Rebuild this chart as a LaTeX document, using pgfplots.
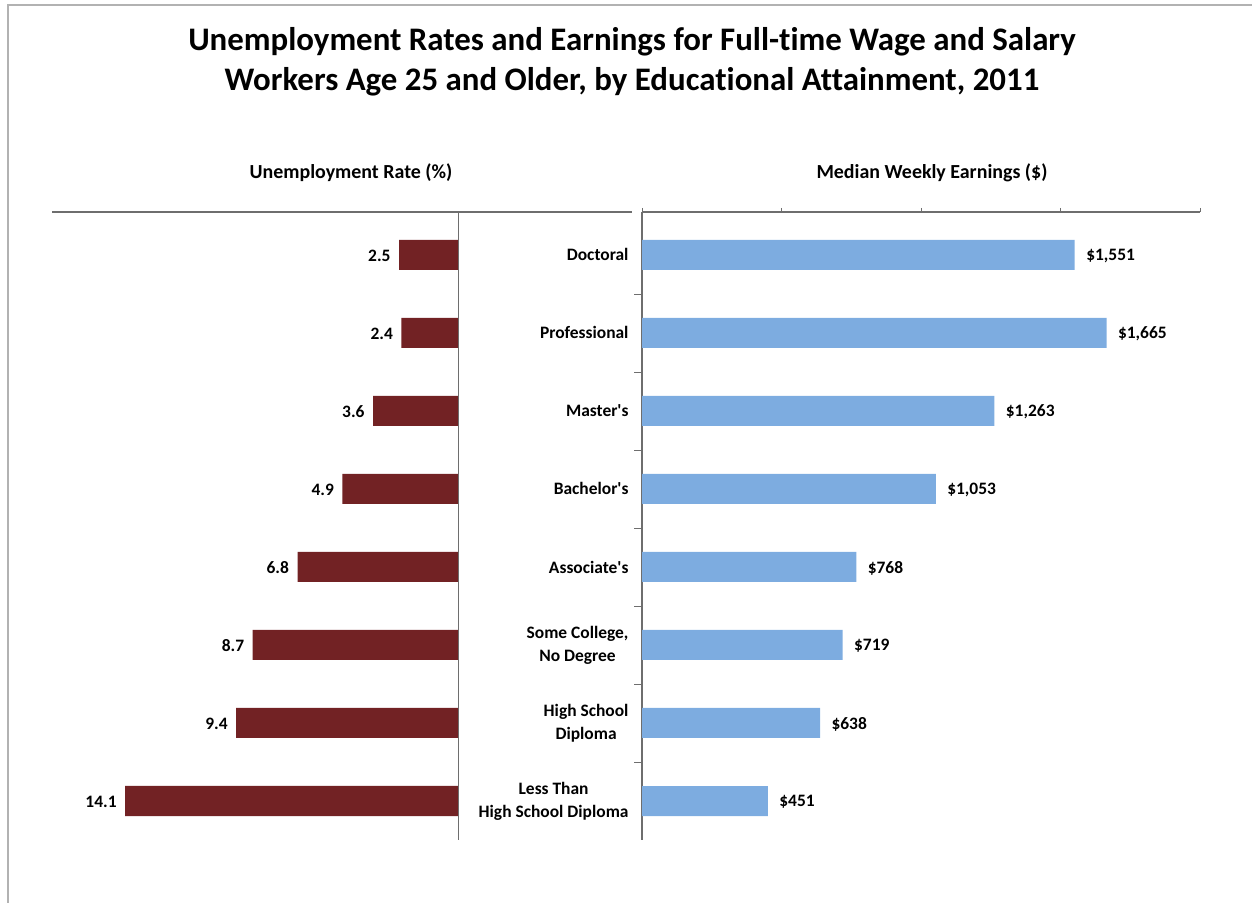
\documentclass[border=0pt]{standalone}
\usepackage{fontspec}
\setmainfont{Carlito}[Ligatures={TeXOff,NoCommon}]
\usepackage{pgfplots}
\pgfplotsset{compat=1.18}
\definecolor{maroon}{RGB}{114,34,36}
\definecolor{lblue}{RGB}{125,172,224}
\definecolor{axgray}{RGB}{110,110,110}
\begin{document}
\begin{tikzpicture}
\path[use as bounding box] (0bp,0bp) rectangle (1252bp,903bp);
\draw[gray!60,line width=1.5bp] (8bp,0bp) -- (8bp,898bp) -- (1252bp,898bp);
\node[font=\bfseries\fontsize{33}{40}\selectfont,align=center] at (632bp,841bp) {Unemployment Rates and Earnings for Full-time Wage and Salary\\Workers Age 25 and Older, by Educational Attainment, 2011};
\node[font=\bfseries\fontsize{20}{24}\selectfont] at (351bp,730bp) {Unemployment Rate (\%)};
\node[font=\bfseries\fontsize{20}{24}\selectfont] at (932bp,730bp) {Median Weekly Earnings (\$)};
% left axis
\begin{axis}[
  at={(52bp,63bp)}, anchor=south west, scale only axis,
  width=580bp, height=628bp,
  xmin=-17.2, xmax=7.37, ymin=0.45, ymax=8.5, y dir=reverse,
  axis x line*=top, axis y line=none,
  xtick=\empty, ytick=\empty,
  axis line style={axgray, line width=1.5bp, -},
  xbar, bar width=30bp, bar shift=0pt,
  point meta=explicit symbolic,
  nodes near coords,
  every node near coord/.append style={anchor=east, font=\bfseries\fontsize{17.5}{20}\selectfont, xshift=-5bp, yshift=-1bp},
  clip=false,
]
\addplot[draw=none, fill=maroon] coordinates {
(-2.5,1) [2.5]
(-2.4,2) [2.4]
(-3.6,3) [3.6]
(-4.9,4) [4.9]
(-6.8,5) [6.8]
(-8.7,6) [8.7]
(-9.4,7) [9.4]
(-14.1,8) [14.1]
};
\draw[axgray, line width=1bp] (axis cs:0,0.45) -- (axis cs:0,8.5);
\end{axis}
% right axis
\begin{axis}[
  at={(642bp,63bp)}, anchor=south west, scale only axis,
  width=558bp, height=628bp,
  xmin=0, xmax=2000, ymin=0.45, ymax=8.5, y dir=reverse,
  axis x line*=top, axis y line*=left,
  axis line style={axgray, line width=1.2bp, -},
  xtick={0,500,1000,1500,2000}, xticklabels={},
  ytick={1,...,8},
  yticklabels={Doctoral, Professional, Master's, Bachelor's, Associate's, {Some College,\\No Degree}, {High School\\Diploma}, {Less Than\\High School Diploma}},
  yticklabel style={align=center, font=\bfseries\fontsize{17.5}{23}\selectfont, xshift=-6bp},
  minor ytick={1.5,2.5,...,7.5},
  extra y ticks={0.45,8.5}, extra y tick labels={},
  extra y tick style={major tick length=8bp, tick style={draw=axgray, line width=0.8bp}},
  tick align=outside,
  major tick length=4bp, minor tick length=8bp,
  y tick style={draw=none},
  minor y tick style={draw=axgray, line width=0.8bp},
  x tick style={axgray, line width=0.8bp},
  xbar, bar width=30bp, bar shift=0pt,
  /pgf/number format/assume math mode=true,
  point meta=x,
  nodes near coords={\$\pgfmathprintnumber[fixed,precision=0,1000 sep={,}]{\pgfplotspointmeta}},
  every node near coord/.append style={anchor=west, font=\bfseries\fontsize{17.5}{20}\selectfont, xshift=8bp, yshift=-1bp},
  clip=false,
]
\addplot[draw=none, fill=lblue] coordinates {
(1551,1)
(1665,2)
(1263,3)
(1053,4)
(768,5)
(719,6)
(638,7)
(451,8)
};
\end{axis}
\end{tikzpicture}
\end{document}
